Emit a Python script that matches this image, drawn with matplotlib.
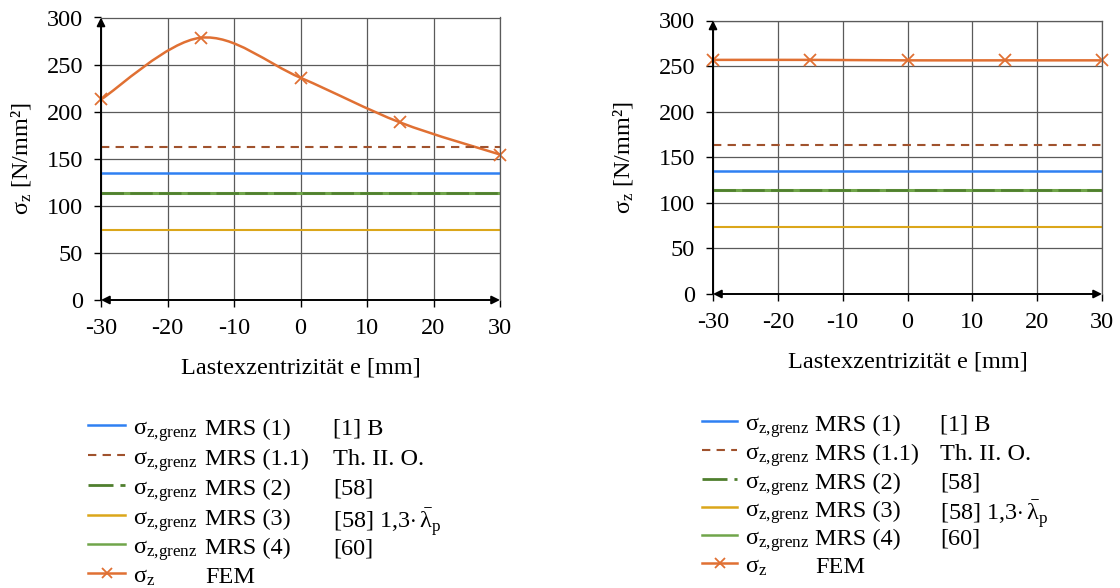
import matplotlib
matplotlib.use('Agg')
import matplotlib.pyplot as plt
from matplotlib.path import Path
from matplotlib.patches import PathPatch
from matplotlib.lines import Line2D

plt.rcParams['font.family'] = ['Liberation Serif', 'DejaVu Serif']
plt.rcParams['mathtext.fontset'] = 'custom'
plt.rcParams['mathtext.rm'] = 'Liberation Serif'
plt.rcParams['mathtext.it'] = 'Liberation Serif:italic'
plt.rcParams['axes.unicode_minus'] = False

# data
ecc = [-30, -15, 0, 15, 30]
fem_left = [213, 278.5, 236, 188.5, 154.5]
fem_right = [256.8, 256.8, 256.3, 256.3, 256.3]
mrs1 = 134.5
mrs11 = 163
mrs2 = 114
mrs3 = 74
mrs4 = 114

names = ['MRS (1)', 'MRS (1.1)', 'MRS (2)', 'MRS (3)', 'MRS (4)']
sources = ['[1] B', 'Th. II. O.', '[58]',
           r'[58] 1,3$\cdot\,\bar{\mathrm{λ}}_{\mathrm{p}}$', '[60]']

c_blue = '#2f80f2'
c_brown = '#a0522d'
c_green_d = '#4f7f2e'
c_yellow = '#dba61a'
c_green = '#70a54a'
c_fem = '#e07033'
grid_c = '#5a5a5a'

W, H = 1120, 588
fig = plt.figure(figsize=(W / 100, H / 100), dpi=100)


def smooth_path(xs, ys):
    # excel-like smoothed line: cubic bezier through the points
    n = len(xs)
    verts = [(xs[0], ys[0])]
    codes = [Path.MOVETO]
    for i in range(n - 1):
        i0 = max(i - 1, 0)
        i3 = min(i + 2, n - 1)
        c1 = (xs[i] + (xs[i + 1] - xs[i0]) / 6, ys[i] + (ys[i + 1] - ys[i0]) / 6)
        c2 = (xs[i + 1] - (xs[i3] - xs[i]) / 6, ys[i + 1] - (ys[i3] - ys[i]) / 6)
        verts += [c1, c2, (xs[i + 1], ys[i + 1])]
        codes += [Path.CURVE4] * 3
    return Path(verts, codes)


def make_axes(rect, fem, label_x, labelpad):
    ax = fig.add_axes(rect)
    x = [ecc[0], ecc[-1]]
    ax.plot(x, [mrs1] * 2, color=c_blue, lw=1.8)
    ax.plot(x, [mrs4] * 2, color=c_green, lw=2.2)
    ax.plot(x, [mrs2] * 2, color=c_green_d, lw=1.8, dashes=(9, 2.5))
    ax.plot(x, [mrs3] * 2, color=c_yellow, lw=1.5)
    ax.plot(x, [mrs11] * 2, color=c_brown, lw=1.5, dashes=(4, 3))
    ax.add_patch(PathPatch(smooth_path(ecc, fem), fill=False,
                           edgecolor=c_fem, lw=1.8, transform=ax.transData))
    ax.plot(ecc, fem, ls='none', marker='x', ms=8, mew=1.3, color=c_fem,
            clip_on=False)

    ax.set_xlim(-30, 30)
    ax.set_ylim(0, 300)
    ax.set_xticks(range(-30, 31, 10))
    ax.set_yticks(range(0, 301, 50))
    ax.grid(True, color=grid_c, lw=0.9)
    ax.set_axisbelow(True)
    for s in ['top', 'right']:
        ax.spines[s].set_color(grid_c)
        ax.spines[s].set_linewidth(0.9)
    for s in ['left', 'bottom']:
        ax.spines[s].set_visible(False)
    ax.tick_params(labelsize=17.5, length=5, width=1, pad=8, colors='black')
    ax.set_xlabel('Lastexzentrizität e [mm]', fontsize=17.5, labelpad=labelpad)
    ax.set_ylabel(r'$\mathrm{σ_z}$ [N/mm²]', fontsize=17.5)
    ax.yaxis.set_label_coords(label_x, 0.5)

    # axis arrows
    ax.annotate('', xy=(0, 1), xytext=(0, 0), xycoords='axes fraction',
                arrowprops=dict(arrowstyle='-|>', color='black', lw=1.4,
                                mutation_scale=12, shrinkA=0, shrinkB=0))
    ax.annotate('', xy=(1, 0), xytext=(0, 0), xycoords='axes fraction',
                arrowprops=dict(arrowstyle='<|-|>', color='black', lw=1.4,
                                mutation_scale=12, shrinkA=0, shrinkB=0))
    return ax


def legend(x_line, x_sig, x_name, x_src, ys):
    styles = [dict(color=c_blue, lw=1.8),
              dict(color=c_brown, lw=1.5, dashes=(4, 3)),
              dict(color=c_green_d, lw=2.0, dashes=(9, 2.5)),
              dict(color=c_yellow, lw=1.8),
              dict(color=c_green, lw=1.8),
              dict(color=c_fem, lw=1.8, marker='x', ms=7, mew=1.3, markevery=[1])]
    for i, st in enumerate(styles):
        yf = 1 - ys[i] / H
        xm = (x_line[0] + x_line[1]) / 2
        fig.add_artist(Line2D([x_line[0] / W, xm / W, x_line[1] / W], [yf] * 3,
                              transform=fig.transFigure, **st))
        yt = 1 - (ys[i] + 2) / H
        if i < 5:
            fig.text(x_sig / W, yt, r'$\mathrm{σ_{z{,}grenz}}$', fontsize=17.5,
                     va='center_baseline')
            fig.text(x_name / W, yt, names[i], fontsize=17.5, va='center_baseline')
            fig.text(x_src / W, yt, sources[i], fontsize=17.5, va='center_baseline')
        else:
            fig.text(x_sig / W, yt, r'$\mathrm{σ_z}$', fontsize=17.5,
                     va='center_baseline')
            fig.text(x_name / W, yt, 'FEM', fontsize=17.5, va='center_baseline')


make_axes([101 / W, 1 - 300 / H, 399 / W, 282.5 / H], fem_left, -0.17, 13)
make_axes([713 / W, 1 - 294 / H, 389 / W, 273.5 / H], fem_right, -0.2, 13)

legend((88, 125), 133, 205, 333, [425, 455, 485, 515, 544, 573])
legend((702, 737), 745, 815, 940, [421, 450, 479, 507, 535, 563])

fig.savefig('out.png', dpi=100)
